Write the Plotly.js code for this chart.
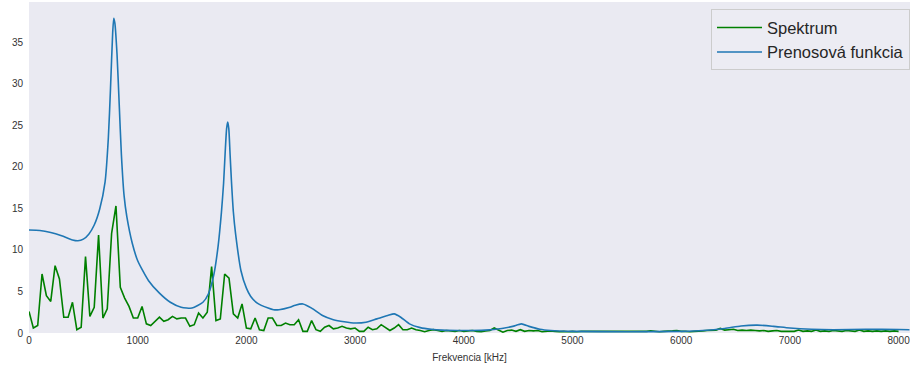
<!DOCTYPE html>
<html>
<head>
<meta charset="utf-8">
<script src="https://cdn.plot.ly/plotly-3.0.1.min.js"></script>
<style>html,body{margin:0;padding:0;background:#fff;}#chart{width:910px;height:367px;}</style>
</head>
<body>
<div id="chart"></div>
<script>
// Spectrum: bins every 40 Hz from 0 to 8000 Hz
const specStep = 40;
const specValues = [
  2.6,0.6,0.9,7.1,4.5,3.8,8.1,6.5,1.9,1.9,
  3.7,0.4,0.7,9.2,2.0,3.1,11.8,1.8,2.9,12.0,
  15.3,5.5,4.2,3.2,1.8,1.8,3.2,1.1,0.9,1.4,
  1.9,1.4,1.6,2.0,1.7,1.8,1.8,0.8,1.0,2.4,
  1.8,2.5,8.0,1.5,1.7,7.1,6.6,2.3,1.8,3.5,
  0.6,0.5,1.8,0.4,0.3,1.8,1.8,0.9,0.9,1.2,
  1.0,1.0,1.6,0.2,0.2,1.5,0.4,0.2,0.7,0.9,
  0.5,0.6,0.8,0.6,0.5,0.6,0.2,0.2,0.7,0.4,
  0.5,1.0,0.6,0.3,0.6,1.0,0.4,0.4,0.6,0.4,
  0.3,0.15,0.3,0.4,0.3,0.2,0.3,0.25,0.2,0.3,
  0.2,0.25,0.3,0.2,0.15,0.25,0.3,0.6,0.3,0.1,
  0.3,0.35,0.2,0.4,0.2,0.3,0.25,0.3,0.15,0.2,
  0.25,0.2,0.15,0.2,0.15,0.2,0.15,0.2,0.2,0.15,
  0.2,0.15,0.2,0.15,0.2,0.2,0.15,0.2,0.15,0.2,
  0.15,0.2,0.2,0.25,0.2,0.15,0.2,0.2,0.25,0.3,
  0.2,0.2,0.15,0.2,0.2,0.25,0.3,0.3,0.35,0.55,
  0.35,0.4,0.45,0.3,0.35,0.3,0.35,0.3,0.25,0.3,
  0.2,0.25,0.3,0.2,0.2,0.25,0.2,0.35,0.2,0.25,
  0.2,0.35,0.2,0.25,0.2,0.3,0.25,0.2,0.3,0.25,
  0.2,0.35,0.2,0.25,0.2,0.25,0.2,0.25,0.2,0.25,
  0.2
];
const specFreq = specValues.map((_, i) => i * specStep);

// Transfer function (Prenosová funkcia)
const tfFreq = [0,100,200,300,400,450,500,550,600,650,700,730,750,770,780,790,810,830,850,875,900,950,1000,1100,1200,1300,1400,1500,1600,1650,1700,1740,1770,1790,1805,1818,1828,1838,1850,1862,1880,1900,1950,2000,2040,2100,2200,2250,2300,2400,2450,2520,2600,2700,2800,2900,3000,3100,3200,3300,3360,3420,3500,3600,3700,3800,4000,4200,4350,4450,4530,4600,4700,4800,5000,5500,6000,6200,6400,6550,6700,6850,7000,7200,7400,7700,8000,8100];
const tfValues = [12.4,12.35,12.1,11.7,11.2,11.1,11.3,11.9,13.0,14.9,18.2,23.5,29.5,36.2,37.9,37.3,33.5,27.5,21.5,16.5,14.0,10.8,8.7,6.3,4.8,3.7,3.1,3.0,3.7,4.7,7.0,10.5,14.5,18.0,21.8,24.6,25.4,24.6,21.5,18.4,14.6,12.0,7.5,5.4,4.4,3.6,3.0,2.8,2.8,3.1,3.35,3.5,3.0,2.1,1.6,1.35,1.2,1.3,1.7,2.1,2.3,1.9,1.1,0.65,0.45,0.35,0.3,0.35,0.55,0.8,1.1,0.8,0.45,0.3,0.2,0.15,0.2,0.3,0.55,0.85,0.95,0.8,0.6,0.45,0.4,0.45,0.42,0.4];

const xTicks = [0,1000,2000,3000,4000,5000,6000,7000,8000];
const yTicks = [0,5,10,15,20,25,30,35];

const font = 'Liberation Sans, Arial, sans-serif';

const traces = [
  {x: specFreq, y: specValues, type: 'scatter', mode: 'lines', name: 'Spektrum',
   line: {color: '#008000', width: 1.6}},
  {x: tfFreq, y: tfValues, type: 'scatter', mode: 'lines', name: 'Prenosová funkcia',
   line: {color: '#1f77b4', width: 1.6, shape: 'spline', smoothing: 0.6}}
];

const layout = {
  width: 910, height: 367,
  margin: {l: 29, r: 0, t: 2, b: 34, pad: 0},
  paper_bgcolor: '#ffffff',
  plot_bgcolor: '#EAEAF2',
  font: {family: font, color: '#333333', size: 10},
  showlegend: true,
  legend: {x: 1, xanchor: 'right', y: 0.978, yanchor: 'top',
    itemwidth: 45,
    font: {family: font, size: 16.5, color: '#262626'},
    bgcolor: 'rgba(236,236,243,0.9)', bordercolor: '#CCCCCC', borderwidth: 1},
  xaxis: {range: [0, 8105], tickvals: xTicks, ticktext: xTicks.map(String),
    showgrid: false, zeroline: false, showline: false, ticks: '',
    ticklabeloverflow: 'allow',
    tickfont: {family: font, size: 10, color: '#333333'},
    title: {text: 'Frekvencia [kHz]', font: {family: font, size: 10, color: '#333333'}, standoff: 8},
    automargin: false},
  yaxis: {range: [0, 39.85], tickvals: yTicks, ticktext: yTicks.map(String),
    showgrid: false, zeroline: false, showline: false, ticks: '',
    ticklabelstandoff: 5,
    tickfont: {family: font, size: 10, color: '#333333'},
    automargin: false}
};

Plotly.newPlot('chart', traces, layout, {displayModeBar: false, staticPlot: true});
</script>
</body>
</html>
